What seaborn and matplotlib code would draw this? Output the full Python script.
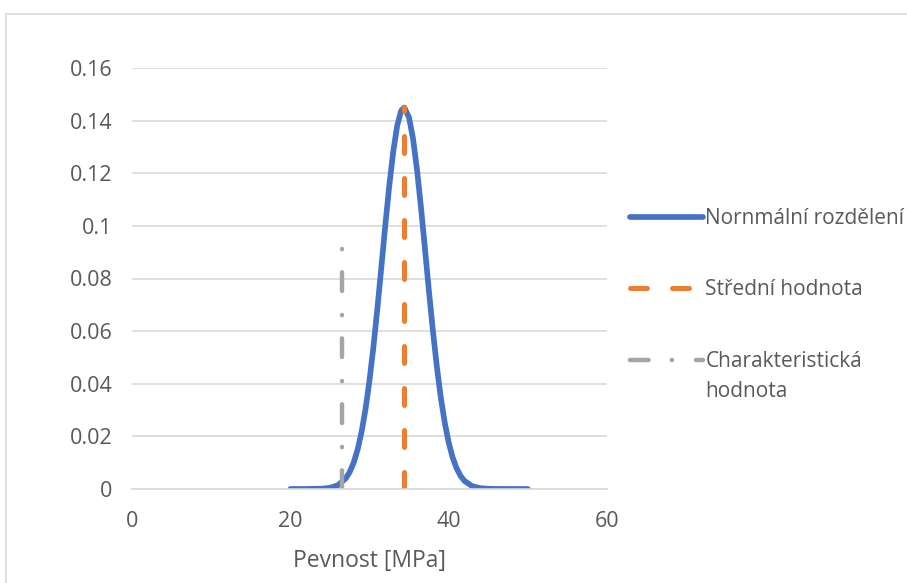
import matplotlib
matplotlib.use("Agg")
import matplotlib.pyplot as plt
from matplotlib.patches import Rectangle
import seaborn as sns
import pandas as pd

# Strength values [MPa] and density of the normal distribution
strength = [20, 22, 24, 25, 26, 27, 27.5, 28, 28.5, 29, 29.5, 30, 30.5, 31, 31.5,
            32, 32.5, 33, 33.5, 34, 34.4, 35, 35.5, 36, 36.5, 37, 37.5, 38, 38.5,
            39, 39.5, 40, 40.5, 41, 41.5, 42, 43, 44, 45, 46, 48, 50]
density = [0.0, 0.00001, 0.00012, 0.00044, 0.00143, 0.00404, 0.00646, 0.0100, 0.0150,
           0.0217, 0.0304, 0.0413, 0.0541, 0.0688, 0.0844, 0.1004, 0.1153, 0.1283,
           0.1381, 0.1438, 0.145, 0.1411, 0.1331, 0.1214, 0.1071, 0.0915, 0.0755,
           0.0604, 0.0467, 0.0349, 0.0253, 0.0177, 0.0120, 0.00786, 0.0050, 0.00306,
           0.00104, 0.00031, 0.00008, 0.00002, 0.0, 0.0]

mean_x = [34.4, 34.4]
mean_y = [0.0, 0.145]
char_x = [26.5, 26.5]
char_y = [0.0, 0.092]

labels = ["Nornmální rozdělení", "Střední hodnota", "Charakteristická"]
x_ticks = [0, 20, 40, 60]
y_ticks = [0, 0.02, 0.04, 0.06, 0.08, 0.1, 0.12, 0.14, 0.16]
y_ticklabels = ["0", "0.02", "0.04", "0.06", "0.08", "0.1", "0.12", "0.14", "0.16"]

sns.set_theme(style="white")
plt.rcParams["font.family"] = ["Open Sans", "DejaVu Sans"]

BLUE, ORANGE, GRAY = "#4472C4", "#ED7D31", "#A5A5A5"
TEXT = "#595959"
GRID = "#D9D9D9"
FS_TICK = 15.5
FS_LEG = 15

fig = plt.figure(figsize=(9.07, 5.83), dpi=100)
ax = fig.add_axes([132 / 907, 1 - 489 / 583, 475 / 907, 421 / 583])

# outer chart frame
fig.patches.append(Rectangle((6 / 907, -0.1), 1.2, 1 - 14 / 583 + 0.1,
                             transform=fig.transFigure, fill=False,
                             edgecolor=GRID, linewidth=1.2))

curve = pd.DataFrame({"x": strength, "y": density})
sns.lineplot(data=curve, x="x", y="y", ax=ax, color=BLUE, linewidth=4.1,
             estimator=None, sort=False, label=labels[0],
             solid_capstyle="round", solid_joinstyle="round")
# dash lengths below are in units of the line width
sns.lineplot(x=mean_x, y=mean_y, ax=ax, color=ORANGE, linewidth=3.6,
             estimator=None, sort=False, orient="y", label=labels[1],
             dashes=False, linestyle=(0, (3.4, 5.0)), dash_capstyle="round")
sns.lineplot(x=char_x, y=char_y, ax=ax, color=GRAY, linewidth=3.2,
             estimator=None, sort=False, orient="y", label=labels[2],
             dashes=False, linestyle=(0, (4.2, 5.2, 0.05, 5.4)),
             dash_capstyle="round")

ax.set_xlim(0, 60)
ax.set_ylim(0, 0.16)
ax.set_xticks(x_ticks)
ax.set_xticklabels([str(t) for t in x_ticks])
ax.set_yticks(y_ticks)
ax.set_yticklabels(y_ticklabels)
ax.grid(axis="y", color=GRID, linewidth=1.2)
ax.grid(axis="x", visible=False)
for s in ["top", "right", "left"]:
    ax.spines[s].set_visible(False)
ax.spines["bottom"].set_color(GRID)
ax.spines["bottom"].set_linewidth(1.2)
ax.set_axisbelow(True)
ax.tick_params(axis="both", length=0, labelsize=FS_TICK, labelcolor=TEXT)
ax.tick_params(axis="x", pad=16)
ax.tick_params(axis="y", pad=14)
ax.set_xlabel("Pevnost [MPa]", fontsize=16.5, color=TEXT, labelpad=12)
ax.set_ylabel("")

leg = ax.legend(loc="upper left", bbox_to_anchor=(630 / 907, 1 - 208 / 583),
                bbox_transform=fig.transFigure, frameon=False, fontsize=FS_LEG,
                handlelength=3.5, handletextpad=0.12, labelspacing=2.42,
                borderpad=0, borderaxespad=0)
for t in leg.get_texts():
    t.set_color(TEXT)
fig.canvas.draw()
last = leg.get_texts()[-1].get_window_extent()
fig.text(last.x0 / 907, (last.y0 - 9) / 583, "hodnota", fontsize=FS_LEG,
         color=TEXT, ha="left", va="top")

fig.savefig("out.png", dpi=100)
